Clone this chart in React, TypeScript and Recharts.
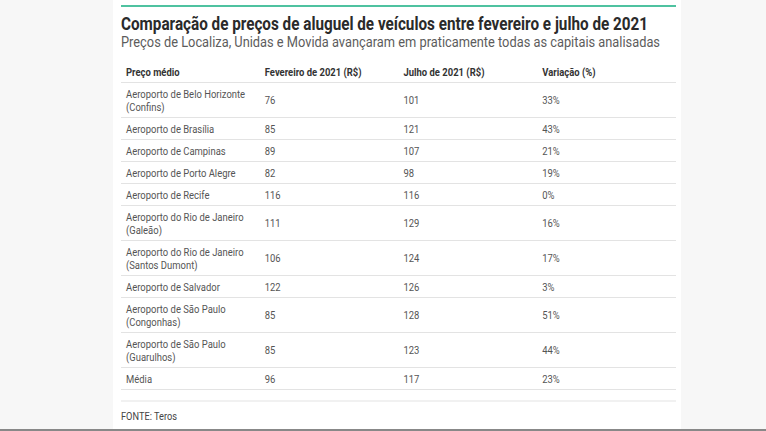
import React from 'react';
import { ScatterChart, Scatter, XAxis, YAxis, ReferenceLine } from 'recharts';

// ---- data ----
const title = 'Comparação de preços de aluguel de veículos entre fevereiro e julho de 2021';
const subtitle = 'Preços de Localiza, Unidas e Movida avançaram em praticamente todas as capitais analisadas';
const source = 'FONTE: Teros';
const columns = ['Preço médio', 'Fevereiro de 2021 (R$)', 'Julho de 2021 (R$)', 'Variação (%)'];
const airports: string[][] = [
  ['Aeroporto de Belo Horizonte', '(Confins)'],
  ['Aeroporto de Brasília'],
  ['Aeroporto de Campinas'],
  ['Aeroporto de Porto Alegre'],
  ['Aeroporto de Recife'],
  ['Aeroporto do Rio de Janeiro', '(Galeão)'],
  ['Aeroporto do Rio de Janeiro', '(Santos Dumont)'],
  ['Aeroporto de Salvador'],
  ['Aeroporto de São Paulo', '(Congonhas)'],
  ['Aeroporto de São Paulo', '(Guarulhos)'],
  ['Média'],
];
const february = [76, 85, 89, 82, 116, 111, 106, 122, 85, 85, 96];
const july = [101, 121, 107, 98, 116, 129, 124, 126, 128, 123, 117];
const variation = [33, 43, 21, 19, 0, 16, 17, 3, 51, 44, 23];

// ---- layout (derived from line counts) ----
const LINE_H = 13;
const PAD = 9;
const SPACER = 11.5;
const rowLines = [1, ...airports.map((a) => a.length)];
const centers: number[] = [];
const boundaries: number[] = [];
let acc = 0;
rowLines.forEach((n) => {
  const h = PAD + LINE_H * n;
  centers.push(acc + h / 2);
  acc += h;
  boundaries.push(acc);
});
const domainMax = acc + SPACER;

const headerPoints = columns.map((c, i) => ({ col: i, pos: centers[0], lines: [c] }));
const bodyCols = [
  airports.map((a, r) => ({ col: 0, pos: centers[r + 1], lines: a })),
  february.map((v, r) => ({ col: 1, pos: centers[r + 1], lines: [String(v)] })),
  july.map((v, r) => ({ col: 2, pos: centers[r + 1], lines: [String(v)] })),
  variation.map((v, r) => ({ col: 3, pos: centers[r + 1], lines: [`${v}%`] })),
];

const FONT = 'Roboto, "Noto Sans", sans-serif';

const makeCell = (bold: boolean) => (props: any) => {
  const { cx, cy, payload } = props;
  const lines: string[] = payload.lines;
  const n = lines.length;
  return (
    <g transform={`translate(${cx + 5},${cy}) scale(0.86,1)`}>
      <text
        fontFamily={FONT}
        fontSize={11}
        fontWeight={bold ? 700 : 400}
        fill={bold ? '#333333' : '#555555'}
      >
        {lines.map((l, i) => (
          <tspan key={i} x={0} y={4 + (i - (n - 1) / 2) * LINE_H}>
            {l}
          </tspan>
        ))}
      </text>
    </g>
  );
};

const HeaderCell = makeCell(true);
const BodyCell = makeCell(false);

export default function App() {
  return (
    <div
      style={{
        position: 'absolute',
        left: 0,
        top: 0,
        width: 766,
        height: 431,
        background: '#f7f7f7',
        overflow: 'hidden',
      }}
    >
      <svg width={766} height={431} style={{ position: 'absolute', left: 0, top: 0 }}>
        <rect x={113} y={0} width={568} height={429} fill="#ffffff" />
        <rect x={121} y={5} width={555} height={2} fill="#4fc2a0" />
        <text
          x={121}
          y={30}
          fontFamily={FONT}
          fontSize={18}
          fontWeight={700}
          fill="#2a2a2a"
          textLength={527}
          lengthAdjust="spacingAndGlyphs"
        >
          {title}
        </text>
        <text
          x={121}
          y={47}
          fontFamily={FONT}
          fontSize={14}
          fill="#5c5c5c"
          textLength={539}
          lengthAdjust="spacingAndGlyphs"
        >
          {subtitle}
        </text>
        <g transform="translate(121,420) scale(0.84,1)">
          <text x={0} y={0} fontFamily={FONT} fontSize={11} fill="#444444">
            {source}
          </text>
        </g>
        <rect x={0} y={429} width={766} height={2} fill="#888888" />
      </svg>
      <div style={{ position: 'absolute', left: 0, top: 0 }}>
        <ScatterChart
          width={766}
          height={431}
          margin={{ top: 60.5, right: 90, bottom: 30, left: 121 }}
        >
          <XAxis type="number" dataKey="col" domain={[0, 4]} hide />
          <YAxis type="number" dataKey="pos" domain={[0, domainMax]} reversed hide />
          {boundaries.map((b, i) => (
            <ReferenceLine key={i} y={b} stroke="#e3e3e3" strokeWidth={1} />
          ))}
          <ReferenceLine y={domainMax} stroke="#e3e3e3" strokeWidth={1} />
          <Scatter data={headerPoints} shape={HeaderCell} isAnimationActive={false} />
          {bodyCols.map((d, i) => (
            <Scatter key={i} data={d} shape={BodyCell} isAnimationActive={false} />
          ))}
        </ScatterChart>
      </div>
    </div>
  );
}
